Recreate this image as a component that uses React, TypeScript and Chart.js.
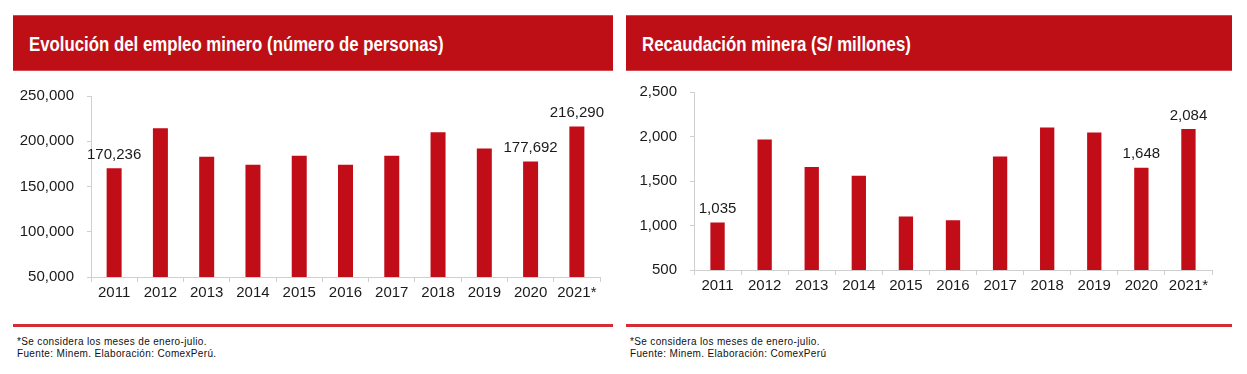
import React, { useEffect, useRef } from "react";
import { Chart, registerables } from "chart.js";

Chart.register(...registerables);

// ---------- Data ----------
const years = ["2011", "2012", "2013", "2014", "2015", "2016", "2017", "2018", "2019", "2020", "2021*"];
const empleo = [170236, 214500, 183000, 174000, 184000, 174000, 184000, 210000, 192000, 177692, 216290];
const recaudacion = [1035, 1967, 1657, 1560, 1100, 1060, 1775, 2100, 2045, 1648, 2084];
const labeledIndices = [0, 9, 10];
const empleoTicks = [50000, 100000, 150000, 200000, 250000];
const recaudacionTicks = [500, 1000, 1500, 2000, 2500];

const titleLeft = "Evolución del empleo minero (número de personas)";
const titleRight = "Recaudación minera (S/ millones)";
const noteLine = "*Se considera los meses de enero-julio.";
const sourceLeft = "Fuente: Minem. Elaboración: ComexPerú.";
const sourceRight = "Fuente: Minem. Elaboración: ComexPerú";

// ---------- Styles ----------
const FONT = '"Liberation Sans", Arial, Helvetica, sans-serif';
const RED = "#BE0F17";
const BAR = "#C00D18";
const AXIS = "#cfcfcf";
const TEXT = "#1a1a1a";

const valueLabelPlugin = {
  id: "valueLabels",
  afterDatasetsDraw(chart: any, _args: any, opts: any) {
    const ctx = chart.ctx;
    const meta = chart.getDatasetMeta(0);
    const ds = chart.data.datasets[0];
    ctx.save();
    ctx.font = `15px ${FONT}`;
    ctx.fillStyle = TEXT;
    ctx.textAlign = "center";
    ctx.textBaseline = "alphabetic";
    (opts.indices || []).forEach((i: number) => {
      const el = meta.data[i];
      if (!el) return;
      ctx.fillText(Number(ds.data[i]).toLocaleString("en-US"), el.x, el.y - 9.5);
    });
    ctx.restore();
  },
};

type BarChartProps = {
  left: number;
  top: number;
  width: number;
  height: number;
  values: number[];
  ticks: number[];
  yWidth: number;
  xHeight: number;
  padTop: number;
  padRight: number;
  barPct: number;
};

function BarChart(p: BarChartProps) {
  const ref = useRef<HTMLCanvasElement | null>(null);
  useEffect(() => {
    if (!ref.current) return;
    const chart = new Chart(ref.current, {
      type: "bar",
      data: {
        labels: years,
        datasets: [
          {
            data: p.values,
            backgroundColor: BAR,
            borderWidth: 0,
            categoryPercentage: 1,
            barPercentage: p.barPct,
          },
        ],
      },
      options: {
        responsive: false,
        animation: false,
        locale: "en-US",
        layout: {
          autoPadding: false,
          padding: { top: p.padTop, right: p.padRight, left: 0, bottom: 0 },
        },
        plugins: {
          legend: { display: false },
          tooltip: { enabled: false },
          title: { display: false },
          valueLabels: { indices: labeledIndices },
        } as any,
        scales: {
          x: {
            offset: true,
            grid: {
              display: true,
              offset: true,
              drawOnChartArea: false,
              drawTicks: true,
              tickLength: 5,
              color: AXIS,
            },
            border: { display: true, color: AXIS, width: 1 },
            ticks: {
              color: TEXT,
              font: { family: FONT, size: 15 },
              padding: 2,
              maxRotation: 0,
              autoSkip: false,
            },
            afterFit: (scale: any) => {
              scale.height = p.xHeight;
              scale.paddingLeft = 0;
              scale.paddingRight = 0;
            },
          },
          y: {
            min: p.ticks[0],
            max: p.ticks[p.ticks.length - 1],
            grid: {
              display: true,
              drawOnChartArea: false,
              drawTicks: true,
              tickLength: 4,
              color: AXIS,
            },
            border: { display: true, color: AXIS, width: 1 },
            ticks: {
              color: TEXT,
              font: { family: FONT, size: 15 },
              padding: 13,
              callback: (v: any) => Number(v).toLocaleString("en-US"),
            },
            afterBuildTicks: (scale: any) => {
              scale.ticks = p.ticks.map((v) => ({ value: v }));
            },
            afterFit: (scale: any) => {
              scale.width = p.yWidth;
              scale.paddingTop = 0;
              scale.paddingBottom = 0;
            },
          },
        },
      } as any,
      plugins: [valueLabelPlugin],
    });
    return () => chart.destroy();
  }, []);
  return (
    <canvas
      ref={ref}
      width={p.width}
      height={p.height}
      style={{ position: "absolute", left: p.left, top: p.top, width: p.width, height: p.height }}
    />
  );
}

function Header({ left, width, text }: { left: number; width: number; text: string }) {
  return (
    <div
      style={{
        position: "absolute",
        left,
        top: 15,
        width,
        height: 56,
        background: RED,
        boxSizing: "border-box",
        borderTop: "1px solid #d24a50",
        borderBottom: "1px solid #d24a50",
      }}
    >
      <div
        style={{
          position: "absolute",
          left: 16,
          top: 17,
          fontFamily: FONT,
          fontWeight: "bold",
          fontSize: 20,
          lineHeight: "22px",
          color: "#fff",
          whiteSpace: "nowrap",
          transform: "scaleX(0.84)",
          transformOrigin: "left center",
        }}
      >
        {text}
      </div>
    </div>
  );
}

function Footer({ left, width, source }: { left: number; width: number; source: string }) {
  return (
    <>
      <div style={{ position: "absolute", left, top: 324, width, height: 3, background: "#D52B35" }} />
      <div
        style={{
          position: "absolute",
          left: left + 4,
          top: 336,
          fontFamily: FONT,
          fontSize: 10,
          lineHeight: "11.5px",
          letterSpacing: "0.35px",
          color: "#111",
          whiteSpace: "nowrap",
        }}
      >
        <div>{noteLine}</div>
        <div>{source}</div>
      </div>
    </>
  );
}

export default function App() {
  return (
    <div style={{ position: "absolute", left: 0, top: 0, width: 1247, height: 374, background: "#fff", overflow: "hidden" }}>
      <Header left={13} width={600} text={titleLeft} />
      <Header left={626} width={606} text={titleRight} />
      <BarChart
        left={0}
        top={80}
        width={620}
        height={230}
        values={empleo}
        ticks={empleoTicks}
        yWidth={91}
        xHeight={33}
        padTop={16}
        padRight={20}
        barPct={0.324}
      />
      <BarChart
        left={620}
        top={80}
        width={620}
        height={230}
        values={recaudacion}
        ticks={recaudacionTicks}
        yWidth={74}
        xHeight={40}
        padTop={12}
        padRight={28}
        barPct={0.304}
      />
      <Footer left={13} width={600} source={sourceLeft} />
      <Footer left={626} width={606} source={sourceRight} />
    </div>
  );
}
